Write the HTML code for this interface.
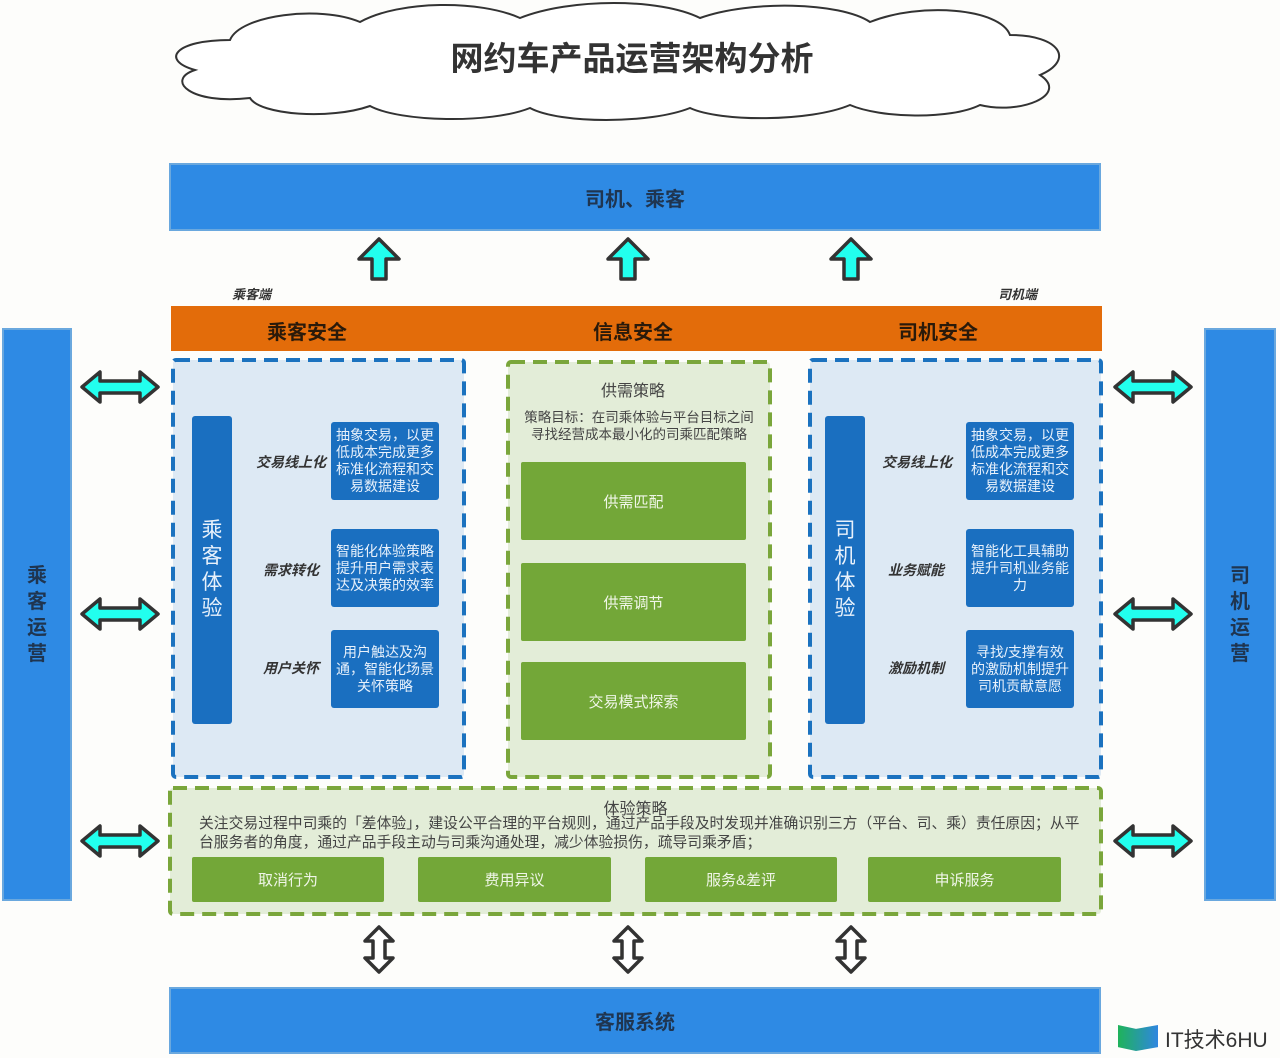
<!DOCTYPE html>
<html><head><meta charset="utf-8"><style>
body{margin:0;width:1280px;height:1058px;background:#fdfdfb;position:relative;overflow:hidden;font-family:"Liberation Sans","Noto Sans CJK SC",sans-serif}
.a{position:absolute;box-sizing:border-box}
.bar{background:#2e8ae4;border:2px solid #6aa8de;color:#1f3550;font-weight:bold;font-size:20px;display:flex;align-items:center;justify-content:center}
.vb{background:#2e8ae4;border:2px solid #6aa8de;color:#1f3550;font-weight:bold;font-size:20px;display:flex;align-items:center;justify-content:center;text-align:center;line-height:26px}
.bb{background:#1a6fc0;color:#e8f1fb;font-size:14px;line-height:17px;text-align:center;display:flex;align-items:center;justify-content:center;border-radius:3px;padding:0 4px}
.ib{background:#1a6fc0;color:#e8f1fb;font-size:21px;line-height:26px;text-align:center;display:flex;align-items:center;justify-content:center;border-radius:3px}
.gb{background:#73a738;color:#f0f6e8;font-size:15px;display:flex;align-items:center;justify-content:center;border-radius:2px}
.lab{font-style:italic;font-weight:bold;font-size:14px;color:#333;text-align:right}
</style></head><body>
<svg class="a" style="left:0;top:0" width="1280" height="1058">
<g fill="#fff" stroke="#333" stroke-width="2">
<path d="M230,40 C240,15 320,5 360,22 C400,0 480,0 520,18 C570,-2 660,-2 700,18 C750,0 840,2 870,22 C920,2 1000,8 1010,35 C1060,35 1075,60 1040,75 C1070,95 1020,115 980,105 C950,120 880,118 850,105 C810,122 720,122 690,108 C650,124 560,124 530,108 C490,124 400,122 370,106 C330,120 260,115 250,98 C190,105 165,80 195,70 C160,60 175,40 230,40 Z"/>
</g>
<g stroke-width="4" stroke-dasharray="14,8">
<rect x="173" y="360" width="291" height="417" rx="3" fill="#dde9f4" stroke="#1b72bf"/>
<rect x="508" y="362" width="262" height="415" rx="3" fill="#e3edd8" stroke="#7aa63b"/>
<rect x="810" y="360" width="291" height="417" rx="3" fill="#dde9f4" stroke="#1b72bf"/>
<rect x="170" y="788" width="931" height="126" rx="3" fill="#e3edd8" stroke="#7aa63b"/>
</g>
<g fill="#22ffee" stroke="#333" stroke-width="3.5" stroke-linejoin="round">
<path d="M379,239 L399,259 L386,259 L386,279 L372,279 L372,259 L359,259 Z"/>
<path d="M628,239 L648,259 L635,259 L635,279 L621,279 L621,259 L608,259 Z"/>
<path d="M851,239 L871,259 L858,259 L858,279 L844,279 L844,259 L831,259 Z"/>
<g id="h"><path d="M82,387 L100,372 L100,381 L140,381 L140,372 L158,387 L140,402 L140,393 L100,393 L100,402 Z"/></g>
<use href="#h" y="227"/><use href="#h" y="454"/>
<use href="#h" x="1033"/><use href="#h" x="1033" y="227"/><use href="#h" x="1033" y="454"/>
</g>
<g fill="#fff" stroke="#333" stroke-width="3.5" stroke-linejoin="round">
<g id="v"><path d="M379,927 L393,941 L385,941 L385,958 L393,958 L379,972 L365,958 L373,958 L373,941 L365,941 Z"/></g>
<use href="#v" x="249"/><use href="#v" x="472"/>
</g>
<text x="632" y="70" text-anchor="middle" font-size="33" font-weight="bold" fill="#333" font-family="Liberation Sans,Noto Sans CJK SC,sans-serif">网约车产品运营架构分析</text>
</svg>
<div class="a bar" style="left:169px;top:163px;width:932px;height:68px">司机、乘客</div>
<div class="a bar" style="left:169px;top:987px;width:932px;height:67px">客服系统</div>
<div class="a vb" style="left:2px;top:328px;width:70px;height:573px">乘<br>客<br>运<br>营</div>
<div class="a vb" style="left:1204px;top:328px;width:72px;height:573px">司<br>机<br>运<br>营</div>
<div class="a" style="left:232px;top:284px;font-size:13px;font-style:italic;font-weight:bold;color:#333">乘客端</div>
<div class="a" style="left:998px;top:284px;font-size:13px;font-style:italic;font-weight:bold;color:#333">司机端</div>
<div class="a" style="left:171px;top:306px;width:931px;height:45px;background:#e36c0a;font-size:20px;font-weight:bold;color:#2a1a0a">
<span class="a" style="left:96px;top:10px">乘客安全</span><span class="a" style="left:422px;top:10px">信息安全</span><span class="a" style="left:727px;top:10px">司机安全</span></div>
<div class="a ib" style="left:192px;top:416px;width:40px;height:308px">乘<br>客<br>体<br>验</div>
<div class="a ib" style="left:825px;top:416px;width:40px;height:308px">司<br>机<br>体<br>验</div>
<div class="a lab" style="left:230px;top:452px;width:96px">交易线上化</div>
<div class="a lab" style="left:230px;top:560px;width:89px">需求转化</div>
<div class="a lab" style="left:230px;top:658px;width:89px">用户关怀</div>
<div class="a lab" style="left:860px;top:452px;width:92px">交易线上化</div>
<div class="a lab" style="left:860px;top:560px;width:84px">业务赋能</div>
<div class="a lab" style="left:860px;top:658px;width:84px">激励机制</div>
<div class="a bb" style="left:331px;top:422px;width:108px;height:78px">抽象交易，以更低成本完成更多标准化流程和交易数据建设</div>
<div class="a bb" style="left:331px;top:529px;width:108px;height:78px">智能化体验策略提升用户需求表达及决策的效率</div>
<div class="a bb" style="left:331px;top:630px;width:108px;height:78px">用户触达及沟通，智能化场景关怀策略</div>
<div class="a bb" style="left:966px;top:422px;width:108px;height:78px">抽象交易，以更低成本完成更多标准化流程和交易数据建设</div>
<div class="a bb" style="left:966px;top:529px;width:108px;height:78px">智能化工具辅助提升司机业务能力</div>
<div class="a bb" style="left:966px;top:630px;width:108px;height:78px">寻找/支撑有效的激励机制提升司机贡献意愿</div>
<div class="a" style="left:500px;top:377px;width:266px;text-align:center;font-size:16px;color:#444">供需策略</div>
<div class="a" style="left:512px;top:409px;width:254px;text-align:center;font-size:13.5px;line-height:17px;color:#444">策略目标：在司乘体验与平台目标之间<br>寻找经营成本最小化的司乘匹配策略</div>
<div class="a gb" style="left:521px;top:462px;width:225px;height:78px">供需匹配</div>
<div class="a gb" style="left:521px;top:563px;width:225px;height:78px">供需调节</div>
<div class="a gb" style="left:521px;top:662px;width:225px;height:78px">交易模式探索</div>
<div class="a" style="left:168px;top:795px;width:935px;text-align:center;font-size:16px;color:#444">体验策略</div>
<div class="a" style="left:199px;top:815px;width:900px;font-size:14.8px;line-height:19px;color:#444;white-space:nowrap">关注交易过程中司乘的「差体验」，建设公平合理的平台规则，通过产品手段及时发现并准确识别三方（平台、司、乘）责任原因；从平<br>台服务者的角度，通过产品手段主动与司乘沟通处理，减少体验损伤，疏导司乘矛盾；</div>
<div class="a gb" style="left:192px;top:857px;width:192px;height:45px">取消行为</div>
<div class="a gb" style="left:418px;top:857px;width:193px;height:45px">费用异议</div>
<div class="a gb" style="left:645px;top:857px;width:192px;height:45px">服务&amp;差评</div>
<div class="a gb" style="left:868px;top:857px;width:193px;height:45px">申诉服务</div>
<div class="a" style="left:1118px;top:1025px;width:40px;height:26px;background:linear-gradient(90deg,#1fb35a,#2f86e0);clip-path:polygon(0 0,45% 15%,100% 0,100% 85%,45% 100%,0 85%)"></div>
<div class="a" style="left:1165px;top:1024px;font-size:21px;color:#333">IT技术6HU</div>
</body></html>
